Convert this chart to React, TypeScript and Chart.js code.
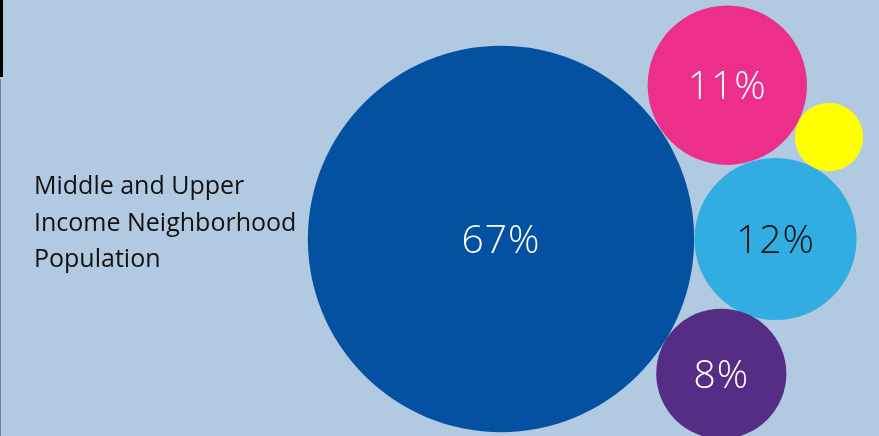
import React, { useEffect, useRef } from "react";
import { Chart, registerables } from "chart.js";

Chart.register(...registerables);

// ---- Data ----
const categories = ["Group A", "Group B", "Group C", "Group D", "Group E"];
const shares = [67, 11.4, 11.8, 7.6, 2.1]; // share of population (%)
const shareLabels = ["67%", "11%", "12%", "8%", ""];
const titleLines = ["Middle and Upper", "Income Neighborhood", "Population"];

// ---- Packed-bubble layout (scale units) ----
const layoutX = [501, 727.3, 775.5, 721.3, 829];
const layoutY = [239, 85.2, 239, 373.7, 137];

// ---- Styles ----
const BG = "#B1C9E1";
const bubbleColors = ["#0450A1", "#EC2F8A", "#31ADE2", "#552D84", "#FFFF00"];
const labelColors = ["#FFFFFF", "#FFFFFF", "#111111", "#FFFFFF", "#111111"];
const RADIUS_PER_SQRT = 23.6;

const labelPlugin = {
  id: "bubbleLabels",
  afterDatasetsDraw(chart: any) {
    const ctx = chart.ctx;
    ctx.save();
    ctx.font = "300 39px 'Open Sans', 'Noto Sans', sans-serif";
    try {
      (ctx as any).letterSpacing = "1px";
    } catch (e) {}
    ctx.textAlign = "center";
    ctx.textBaseline = "alphabetic";
    const meta = chart.getDatasetMeta(0);
    meta.data.forEach((el: any, i: number) => {
      const txt = shareLabels[i];
      if (!txt) return;
      ctx.fillStyle = labelColors[i];
      ctx.fillText(txt, el.x, el.y + 14);
    });
    ctx.restore();
  },
};

export default function App() {
  const canvasRef = useRef<HTMLCanvasElement | null>(null);

  useEffect(() => {
    document.body.style.margin = "0";
    const canvas = canvasRef.current;
    if (!canvas) return;
    const chart = new Chart(canvas, {
      type: "bubble",
      data: {
        labels: categories,
        datasets: [
          {
            label: "Population share",
            data: shares.map((v, i) => ({
              x: layoutX[i],
              y: layoutY[i],
              r: RADIUS_PER_SQRT * Math.sqrt(v),
            })),
            backgroundColor: bubbleColors,
            hoverBackgroundColor: bubbleColors,
            borderWidth: 0,
            hoverBorderWidth: 0,
            hoverRadius: 0,
            clip: false as any,
          },
        ],
      },
      options: {
        responsive: false,
        animation: false,
        maintainAspectRatio: false,
        layout: { padding: 0, autoPadding: false } as any,
        events: [],
        plugins: {
          legend: { display: false },
          title: { display: false },
          tooltip: { enabled: false },
        },
        scales: {
          x: { type: "linear", min: 0, max: 879, display: false },
          y: { type: "linear", min: 0, max: 436, reverse: true, display: false },
        },
      },
      plugins: [labelPlugin],
    });
    return () => chart.destroy();
  }, []);

  return (
    <div
      style={{
        position: "fixed",
        left: 0,
        top: 0,
        width: 879,
        height: 436,
        background: BG,
        overflow: "hidden",
      }}
    >
      <canvas
        ref={canvasRef}
        width={879}
        height={436}
        style={{ position: "absolute", left: 0, top: 0, width: 879, height: 436 }}
      />
      <div
        style={{
          position: "absolute",
          left: 0,
          top: 0,
          width: 3,
          height: 77,
          background: "#000",
        }}
      />
      <div
        style={{
          position: "absolute",
          left: 0,
          top: 79,
          width: 1,
          height: 357,
          background: "#6F8296",
        }}
      />
      <div
        style={{
          position: "absolute",
          left: 34,
          top: 166,
          fontFamily: "'Open Sans', 'Noto Sans', sans-serif",
          fontSize: 25,
          lineHeight: "36.7px",
          color: "#111",
          whiteSpace: "nowrap",
        }}
      >
        {titleLines.map((t, i) => (
          <div key={i}>{t}</div>
        ))}
      </div>
    </div>
  );
}
